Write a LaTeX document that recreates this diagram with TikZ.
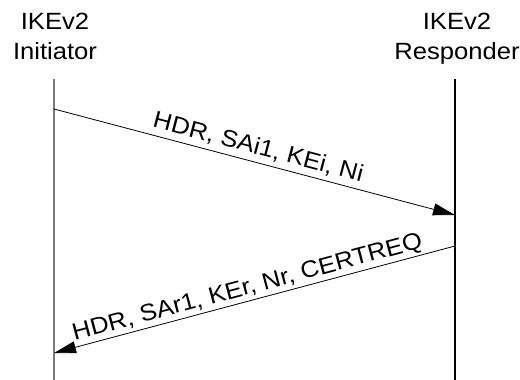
\documentclass[tikz,border=0pt]{standalone}
\usepackage{fontspec}
\setmainfont{Liberation Sans}
\usetikzlibrary{arrows.meta}

\begin{document}
\begin{tikzpicture}[x=1pt,y=-1pt,
  party/.style={align=center,inner sep=0pt,anchor=north,xscale=1.09,
    font=\fontsize{23.5}{30}\selectfont},
  msg/.style={line width=0.8pt,-{Triangle[length=22pt,width=12pt]}},
  msglabel/.style={midway,sloped,inner sep=0pt,xscale=1.09,
    font=\fontsize{23.5}{28}\selectfont},
  lifeA/.style={line width=1.4pt,draw=black!52},
  lifeB/.style={line width=1.3pt,draw=black}]
  \useasboundingbox (0,0) rectangle (520,380);

  % participants
  \node[party] (ini) at (55,12.5) {IKEv2\\Initiator};
  \node[party] (res) at (457,12.5) {IKEv2\\Responder};

  % lifelines
  \coordinate (iniTop) at (54,79);
  \coordinate (iniBot) at (54,380);
  \coordinate (resTop) at (455,79);
  \coordinate (resBot) at (455,380);
  \draw[lifeA] (iniTop) -- (iniBot);
  \draw[lifeB] (resTop) -- (resBot);

  % message endpoints on the lifelines
  \coordinate (m1s) at (54,109);
  \coordinate (m1e) at (455,215);
  \coordinate (m2s) at (455,246);
  \coordinate (m2e) at (54,353);

  % IKE_SA_INIT request and response
  \draw[msg] (m1s) -- node[msglabel,yshift=15pt] (l1) {HDR, SAi1, KEi, Ni} (m1e);
  \draw[msg] (m2s) -- node[msglabel,yshift=12.5pt,xshift=-3.5pt] (l2) {HDR, SAr1, KEr, Nr, CERTREQ} (m2e);
\end{tikzpicture}
\end{document}
